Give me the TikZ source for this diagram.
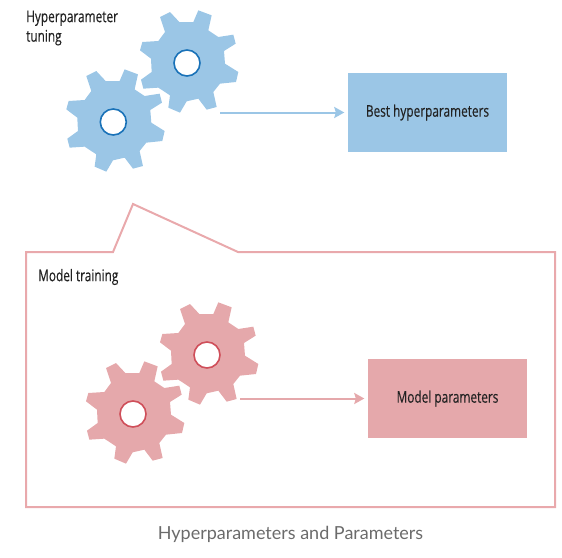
\documentclass[tikz,border=0pt]{standalone}
\usepackage{fontspec}
\setmainfont{Open Sans}
\newfontfamily\lblfont[FakeStretch=0.74,FakeBold=0.25]{Open Sans}
\newfontfamily\capfont{Lato}
\usetikzlibrary{arrows.meta}
\definecolor{bluefill}{HTML}{9BC6E6}
\definecolor{blueline}{HTML}{1A72B8}
\definecolor{redfill}{HTML}{E5A8AB}
\definecolor{redline}{HTML}{CF4F5A}
\definecolor{frameline}{HTML}{E9A9AC}
\definecolor{inktext}{HTML}{222222}
\definecolor{captext}{HTML}{6B6B6B}
\tikzset{
  lbl/.style={font=\lblfont\fontsize{16}{19.5}\selectfont,text=inktext,inner sep=0pt},
  box/.style={minimum width=159pt,minimum height=79pt,inner sep=0pt,font=\lblfont\fontsize{16}{19.5}\selectfont,text=inktext},
  hole/.style={circle,fill=white,draw=#1,line width=1.6pt,minimum size=26pt,inner sep=0pt},
  conn/.style={draw=#1,line width=2pt,-{Stealth[length=10pt,width=11pt,inset=1.5pt]},shorten >=3.5pt},
}
\newcommand{\gearshape}[3]{% centre x, centre y, colour
  \fill[#3,shift={(#1,#2)},x=0.3333pt,y=-0.3333pt]
   (-81,-138) -- (-51,-153) -- (-23,-123) -- (19,-123) -- (34,-158) -- (74,-143)
   -- (64,-98) -- (94,-78) -- (139,-85) -- (146,-58) -- (111,-36) -- (114,2)
   -- (154,27) -- (147,57) -- (99,62) -- (79,87) -- (89,132) -- (59,140)
   -- (34,107) -- (-1,115) -- (-21,149) -- (-56,134) -- (-51,97) -- (-86,74)
   -- (-131,77) -- (-138,50) -- (-106,27) -- (-108,-13) -- (-141,-38) -- (-134,-63)
   -- (-86,-66) -- (-66,-93) -- cycle;
}
\begin{document}
\begin{tikzpicture}[x=1pt,y=1pt,line join=miter]
\useasboundingbox (0,0) rectangle (562,-557);
% frame
\draw[frameline,line width=2pt] (26,-252) -- (113,-252) -- (133,-204) -- (238,-252) -- (555,-252) -- (555,-507) -- (26,-507) -- cycle;
% blue gears
\gearshape{187}{-63}{bluefill}
\gearshape{113.3}{-122}{bluefill}
\node[hole=blueline] (hb1) at (187,-63) {};
\node[hole=blueline] (hb2) at (113.3,-122) {};
% red gears
\gearshape{207}{-355}{redfill}
\gearshape{133}{-414}{redfill}
\node[hole=redline] (hr1) at (207,-355) {};
\node[hole=redline] (hr2) at (133,-414) {};
% boxes
\node[box,fill=bluefill] (best) at (427.5,-112.5) {Best hyperparameters};
\node[box,fill=redfill] (model) at (447.5,-398.5) {Model parameters};
% labels
\node[lbl,anchor=north west,align=left] (tune) at (26,-10.5) {Hyperparameter\\tuning};
\node[lbl,anchor=west] (train) at (38,-277) {Model training};
\node[font=\capfont\fontsize{18}{22}\selectfont,text=captext,inner sep=0pt] (cap) at (290.5,-534.5) {Hyperparameters and Parameters};
% arrows
\coordinate (ab) at (220,-112.5);
\coordinate (ar) at (240,-398.5);
\draw[conn=bluefill] (ab) -- (best);
\draw[conn=redfill] (ar) -- (model);
\end{tikzpicture}
\end{document}
